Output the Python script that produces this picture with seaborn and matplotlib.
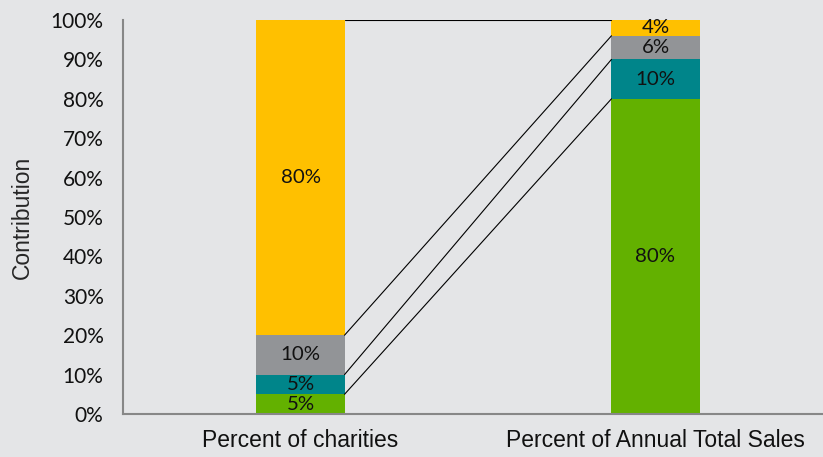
import numpy as np
import pandas as pd
import matplotlib
matplotlib.use("Agg")
import matplotlib.pyplot as plt
import seaborn as sns

# data (percent)
categories = ["Percent of charities", "Percent of Annual Total Sales"]
layers = ["green", "teal", "gray", "yellow"]
charities = [5, 5, 10, 80]
sales = [80, 10, 6, 4]
colors = {"green": "#63B100", "teal": "#00858A", "gray": "#929497", "yellow": "#FFC000"}
bg = "#E4E5E7"

sns.set_style("white")
plt.rcParams["font.family"] = ["Liberation Sans", "DejaVu Sans"]
num_font = ["Lato", "DejaVu Sans"]
lab_font = ["Liberation Sans", "DejaVu Sans"]

fig = plt.figure(figsize=(8.23, 4.57), dpi=100, facecolor=bg)
ax = fig.add_axes([123 / 823, 43 / 457, 710 / 823, 394 / 457])
ax.set_facecolor(bg)

vals = np.array([charities, sales], dtype=float)  # rows: category
bottoms = np.zeros(2)
for i, layer in enumerate(layers):
    df = pd.DataFrame({"cat": categories, "val": vals[:, i]})
    sns.barplot(data=df, x="cat", y="val", color=colors[layer], width=0.248,
                bottom=bottoms, ax=ax, saturation=1, linewidth=0)
    for j in range(2):
        ax.text(j, bottoms[j] + vals[j, i] / 2, f"{vals[j, i]:.0f}%",
                ha="center", va="center", fontsize=14.7, family=num_font,
                color="#111111")
    bottoms = bottoms + vals[:, i]

# connector lines between boundaries
cum = np.cumsum(vals, axis=1)
half = 0.124
for k in range(4):
    ax.plot([0 + half, 1 - half], [cum[0, k], cum[1, k]], color="black", lw=0.8)

ax.set_xlim(-0.5, 1.5)
ax.set_ylim(0, 100)
ax.set_yticks(range(0, 101, 10))
ax.set_yticklabels([f"{t}%" for t in range(0, 101, 10)], family=num_font, fontsize=15)
ax.set_xticks([0, 1])
ax.set_xticklabels(categories, family=lab_font, fontsize=16.5)
ax.set_xlabel("")
ax.set_ylabel("Contribution", fontsize=16.5, family=lab_font, labelpad=12)
ax.tick_params(axis="x", length=0, pad=11, colors="#111111")
ax.tick_params(axis="y", length=6, width=1.5, color="#878787", pad=8, labelcolor="#111111")
for s in ["top", "right"]:
    ax.spines[s].set_visible(False)
for s in ["left", "bottom"]:
    ax.spines[s].set_color("#878787")
    ax.spines[s].set_linewidth(1.5)

fig.savefig("out.png", dpi=100, facecolor=bg)
